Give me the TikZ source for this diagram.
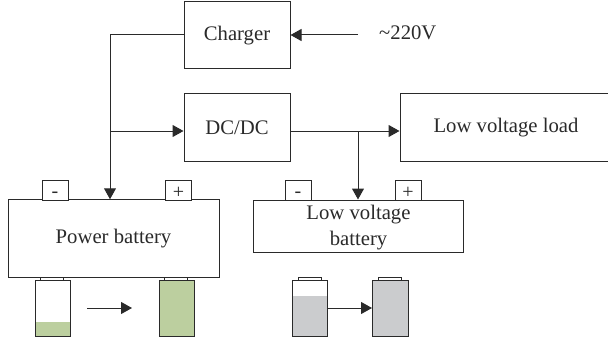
\documentclass[tikz,border=0pt]{standalone}
\usepackage{fontspec}
\setmainfont{Liberation Serif}
\usetikzlibrary{arrows.meta}
\definecolor{ln}{HTML}{2A2A2A}
\definecolor{gfill}{HTML}{BCCF9F}
\definecolor{gyfill}{HTML}{CBCCCE}
\tikzset{
  x=1pt,y=-1pt,
  box/.style={draw=ln,line width=1pt,fill=white,inner sep=0pt,align=center,text=ln,font=\fontsize{20.7}{24}\selectfont},
  term/.style={box,minimum width=26pt,minimum height=20pt,font=\fontsize{20}{22}\selectfont},
  conn/.style={draw=ln,line width=1pt},
  arr/.style={conn,-{Triangle[length=11pt,width=12pt]}},
  cell/.style={draw=ln,line width=1pt,inner sep=0pt,minimum width=35.5pt,minimum height=56pt},
  battcap/.style={draw=ln,line width=.8pt,fill=white,inner sep=0pt,minimum width=23pt,minimum height=3pt}
}
\begin{document}
\begin{tikzpicture}
\useasboundingbox (0,0) rectangle (608,345);
\node[box,minimum width=106pt,minimum height=67pt] (charger) at (237,35.5) {Charger};
\node[box,minimum width=106pt,minimum height=67pt] (dcdc) at (237,127.5) {DC/DC};
\node[box,minimum width=209pt,minimum height=67pt] (load) at (504.5,127.5) {\hspace{3pt}Low voltage load};
\node[box,minimum width=211pt,minimum height=77.5pt] (pb) at (113.5,238.5) {Power battery};
\node[box,minimum width=209.5pt,minimum height=52pt,font=\fontsize{20.7}{26}\selectfont] (lb) at (358.5,226) {\rule{0pt}{18pt}Low voltage\\battery};
\node[term] (pm) at (55,190) {\smash{\raisebox{-7pt}{-}}};
\node[term] (pp) at (178.5,190) {\smash{\raisebox{-8pt}{+}}};
\node[term] (lm) at (298,190) {\smash{\raisebox{-7pt}{-}}};
\node[term] (lp) at (408,190) {\smash{\raisebox{-8pt}{+}}};
\node[text=ln,font=\fontsize{20.7}{24}\selectfont,anchor=west,inner sep=0pt] (ac) at (379,32.5) {\textasciitilde220V};
\coordinate (acend) at (358,35);
\coordinate (trunk) at (110,35);
\coordinate (tap) at (110,131);
\coordinate (jn) at (358,131);
\draw[conn] (charger.west |- trunk) -- (trunk) -- (tap);
\draw[arr] (acend) -- (acend -| charger.east);
\draw[arr] (tap) -- (tap -| dcdc.west);
\draw[arr] (tap) -- (tap |- pb.north);
\draw[arr] (jn -| dcdc.east) -- (jn -| load.west);
\draw[arr] (jn) -- (jn |- lb.north);
% cells
\fill[gfill] (35,322) rectangle (70.5,336);
\fill[gfill] (159,280) rectangle (194.5,336);
\fill[gyfill] (292,296) rectangle (328,336);
\fill[gyfill] (372.5,280) rectangle (408,336);
\node[cell] (c1) at (52.75,308) {};
\node[cell] (c2) at (176.75,308) {};
\node[cell] (c3) at (310,308) {};
\node[cell] (c4) at (390.25,308) {};
\node[battcap] (k1) at (52,278.5) {};
\node[battcap] (k2) at (176,278.5) {};
\node[battcap] (k3) at (309.5,278.5) {};
\node[battcap] (k4) at (389.5,278.5) {};
\coordinate (a1s) at (87,308);
\coordinate (a1e) at (132,308);
\draw[arr] (a1s) -- (a1e);
\draw[arr] (c3.east) -- (c4.west);
\end{tikzpicture}
\end{document}
